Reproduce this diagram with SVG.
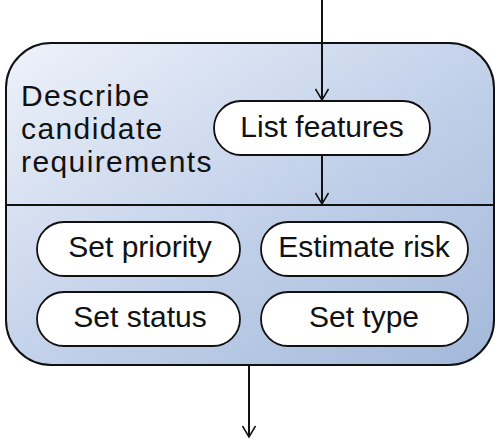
<svg xmlns="http://www.w3.org/2000/svg" width="500" height="439" viewBox="0 0 500 439">
<style>
.txt{font-family:"Liberation Sans",Arial,sans-serif;font-size:30px;fill:#111}
.act{fill:#fff;stroke:#111;stroke-width:1.8}
.edge{stroke:#111;stroke-width:2;fill:none}
</style>
<defs>
<linearGradient id="bg" x1="0" y1="0" x2="1" y2="1">
<stop offset="0" stop-color="#eef2fa"/>
<stop offset="0.5" stop-color="#c4d2ea"/>
<stop offset="1" stop-color="#a3b8da"/>
</linearGradient>
<marker id="arr" markerWidth="14" markerHeight="14" refX="12" refY="7" orient="auto" markerUnits="userSpaceOnUse">
<path d="M1,0.5 L12,7 L1,13.5" fill="none" stroke="#111" stroke-width="1.5"/>
</marker>
</defs>
<g id="container">
<rect x="6" y="43" width="488" height="322" rx="45" ry="45" fill="url(#bg)" stroke="#111" stroke-width="2"/>
<line x1="6" y1="205" x2="494" y2="205" stroke="#111" stroke-width="2"/>
<text class="txt" x="21" y="106" letter-spacing="1.4">Describe</text>
<text class="txt" x="21" y="139" letter-spacing="1.4">candidate</text>
<text class="txt" x="21" y="172" letter-spacing="1.4">requirements</text>
</g>
<g id="connectors">
<line class="edge" x1="322" y1="0" x2="322" y2="100" marker-end="url(#arr)"/>
<line class="edge" x1="322" y1="155" x2="322" y2="204" marker-end="url(#arr)"/>
<line class="edge" x1="249" y1="365" x2="249" y2="437" marker-end="url(#arr)"/>
</g>
<g id="list-features">
<rect class="act" x="214" y="101" width="216" height="54" rx="27"/>
<text class="txt" x="322" y="137" text-anchor="middle">List features</text>
</g>
<g id="set-priority">
<rect class="act" x="37" y="222" width="203" height="54" rx="27"/>
<text class="txt" x="140" y="257" text-anchor="middle">Set priority</text>
</g>
<g id="estimate-risk">
<rect class="act" x="261" y="222" width="207" height="54" rx="27"/>
<text class="txt" x="364" y="257" text-anchor="middle">Estimate risk</text>
</g>
<g id="set-status">
<rect class="act" x="37" y="292" width="203" height="54" rx="27"/>
<text class="txt" x="140" y="327" text-anchor="middle">Set status</text>
</g>
<g id="set-type">
<rect class="act" x="261" y="292" width="207" height="54" rx="27"/>
<text class="txt" x="364" y="327" text-anchor="middle">Set type</text>
</g>
</svg>
